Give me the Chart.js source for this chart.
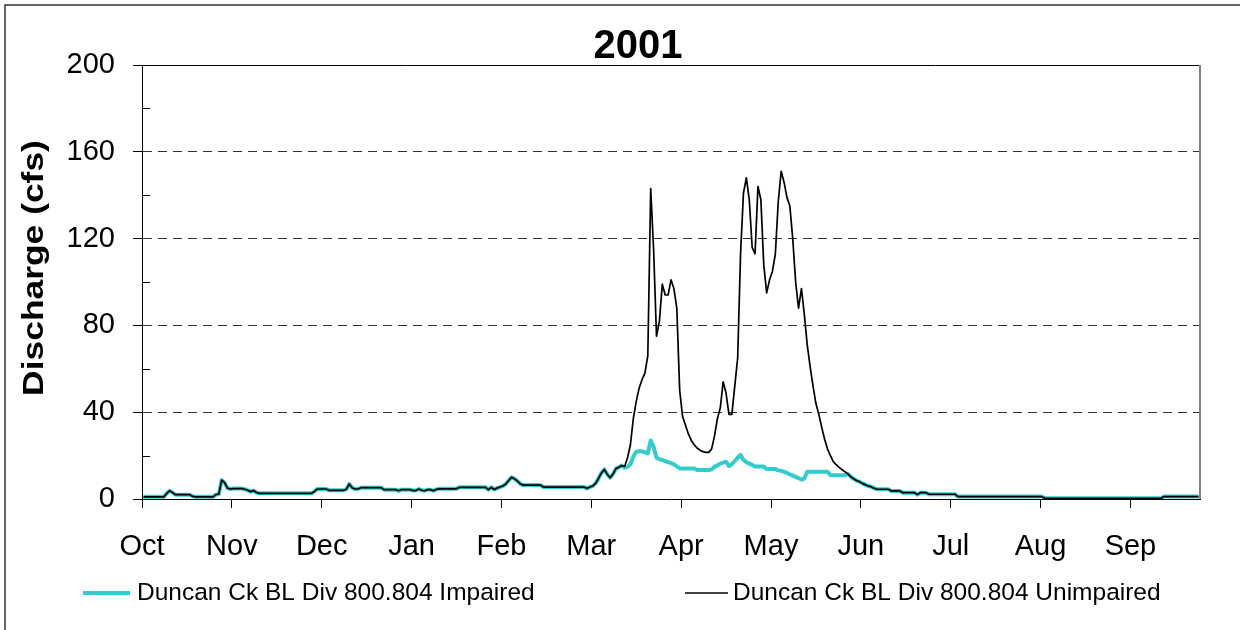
<!DOCTYPE html>
<html>
<head>
<meta charset="utf-8">
<title>2001</title>
<script src="https://cdn.jsdelivr.net/npm/chart.js@4.4.0/dist/chart.umd.min.js"></script>
<style>
    html, body { margin: 0; padding: 0; background: #fff; }
    #wrap { width: 1240px; height: 630px; }
</style>
</head>
<body>
<div id="wrap"><canvas id="flowChart"></canvas></div>
<script>
// Month labels sit on Excel's 31-day tick interval (day 0 = Oct 1, 2000)
const monthLabels = ['Oct', 'Nov', 'Dec', 'Jan', 'Feb', 'Mar', 'Apr', 'May', 'Jun', 'Jul', 'Aug', 'Sep'];
const tickDays = [0, 31, 62, 93, 124, 155, 186, 217, 248, 279, 310, 341];
const yTicks = [0, 40, 80, 120, 160, 200];

// Daily discharge (cfs), Oct 1 2000 - Sep 30 2001
const unimpaired = [
    1, 1, 1, 1, 1, 1, 1, 1, 2.5, 3.8,
    3, 2, 2, 2, 2, 2, 2, 1.2, 1, 1,
    1, 1, 1, 1, 1, 2, 2.3, 8.7, 7.5, 5,
    4.6, 4.8, 4.8, 4.8, 4.8, 4.5, 4, 3.4, 3.9, 3,
    2.6, 2.6, 2.6, 2.6, 2.6, 2.6, 2.6, 2.6, 2.6, 2.6,
    2.6, 2.6, 2.6, 2.6, 2.6, 2.6, 2.6, 2.6, 2.6, 3.5,
    4.6, 4.6, 4.6, 4.6, 4, 4, 4, 4, 4, 4,
    4.5, 6.9, 5.2, 4.6, 4.6, 5.2, 5.2, 5.2, 5.2, 5.2,
    5.2, 5.2, 5.2, 4.3, 4.3, 4.3, 4.3, 4.3, 3.8, 4.3,
    4.3, 4.3, 4.3, 3.9, 3.9, 4.6, 4, 3.8, 4.3, 4.3,
    3.8, 4.4, 4.7, 4.7, 4.7, 4.7, 4.7, 4.7, 4.7, 5.4,
    5.4, 5.4, 5.4, 5.4, 5.4, 5.4, 5.4, 5.4, 5.4, 4.3,
    5.4, 4.4, 5, 5.5, 6, 6.9, 8.5, 10, 9.3, 8.3,
    7, 6.4, 6.4, 6.4, 6.4, 6.4, 6.4, 6.4, 5.5, 5.5,
    5.5, 5.5, 5.5, 5.5, 5.5, 5.5, 5.5, 5.5, 5.5, 5.5,
    5.5, 5.5, 5.5, 4.8, 5.5, 6, 7.2, 9.5, 12, 13.6,
    11.4, 9.8, 11.5, 14, 14.6, 15.4, 15, 19, 25, 37,
    45, 51, 55, 58, 66, 143, 115, 75, 82, 99,
    94, 94, 101, 97, 88, 50, 38, 34, 30, 27,
    25, 23.5, 22.5, 21.8, 21.5, 21.5, 23, 29, 37, 42,
    54, 48.7, 39, 39, 52, 65, 113, 141, 148, 138,
    116, 113, 144, 138, 108, 95, 101, 105, 113, 137,
    151, 146, 139, 135, 120, 100, 88, 97, 85, 71,
    61, 52, 44, 39, 33, 27.5, 23, 20, 17.2, 15.8,
    14.6, 13.5, 12.6, 11.6, 10.3, 9.3, 8.5, 8, 7.2, 6.6,
    6, 5.7, 5, 4.5, 4.5, 4.5, 4.5, 4.5, 3.7, 3.7,
    3.7, 3.7, 2.9, 2.9, 2.9, 2.9, 2.9, 2, 2.9, 2.9,
    2.9, 2.2, 2.2, 2.2, 2.2, 2.2, 2.2, 2.2, 2.2, 2.2,
    2.2, 1.1, 1.1, 1.1, 1.1, 1.1, 1.1, 1.1, 1.1, 1.1,
    1.1, 1.1, 1.1, 1.1, 1.1, 1.1, 1.1, 1.1, 1.1, 1.1,
    1.1, 1.1, 1.1, 1.1, 1.1, 1.1, 1.1, 1.1, 1.1, 1.1,
    1.1, 0.3, 0.3, 0.3, 0.3, 0.3, 0.3, 0.3, 0.3, 0.3,
    0.3, 0.3, 0.3, 0.3, 0.3, 0.3, 0.3, 0.3, 0.3, 0.3,
    0.3, 0.3, 0.3, 0.3, 0.3, 0.3, 0.3, 0.3, 0.3, 0.3,
    0.3, 0.3, 0.3, 0.3, 0.3, 0.3, 0.3, 0.3, 0.3, 0.3,
    0.3, 0.3, 1.1, 1.1, 1.1, 1.1, 1.1, 1.1, 1.1, 1.1,
    1.1, 1.1, 1.1, 1.1, 1.1
];

const impaired = [
    1, 1, 1, 1, 1, 1, 1, 1, 2.5, 3.8,
    3, 2, 2, 2, 2, 2, 2, 1.2, 1, 1,
    1, 1, 1, 1, 1, 2, 2.3, 8.7, 7.5, 5,
    4.6, 4.8, 4.8, 4.8, 4.8, 4.5, 4, 3.4, 3.9, 3,
    2.6, 2.6, 2.6, 2.6, 2.6, 2.6, 2.6, 2.6, 2.6, 2.6,
    2.6, 2.6, 2.6, 2.6, 2.6, 2.6, 2.6, 2.6, 2.6, 3.5,
    4.6, 4.6, 4.6, 4.6, 4, 4, 4, 4, 4, 4,
    4.5, 6.9, 5.2, 4.6, 4.6, 5.2, 5.2, 5.2, 5.2, 5.2,
    5.2, 5.2, 5.2, 4.3, 4.3, 4.3, 4.3, 4.3, 3.8, 4.3,
    4.3, 4.3, 4.3, 3.9, 3.9, 4.6, 4, 3.8, 4.3, 4.3,
    3.8, 4.4, 4.7, 4.7, 4.7, 4.7, 4.7, 4.7, 4.7, 5.4,
    5.4, 5.4, 5.4, 5.4, 5.4, 5.4, 5.4, 5.4, 5.4, 4.3,
    5.4, 4.4, 5, 5.5, 6, 6.9, 8.5, 10, 9.3, 8.3,
    7, 6.4, 6.4, 6.4, 6.4, 6.4, 6.4, 6.4, 5.5, 5.5,
    5.5, 5.5, 5.5, 5.5, 5.5, 5.5, 5.5, 5.5, 5.5, 5.5,
    5.5, 5.5, 5.5, 4.8, 5.5, 6, 7.2, 9.5, 12, 13.6,
    11.4, 9.8, 11.5, 14, 14.6, 15.4, 14.4, 14.8, 16, 19.5,
    21.8, 22, 22, 21.5, 21, 27, 24, 19, 18.3, 18,
    17.5, 17, 16.5, 16, 15, 14.1, 14.1, 14.1, 14.1, 14.1,
    14.1, 13.4, 13.4, 13.4, 13.4, 13.4, 13.6, 14.8, 15.5, 16.3,
    16.8, 17.2, 15.2, 16, 17.5, 19, 20.3, 18, 17, 16.3,
    15.7, 15, 15, 15, 15, 13.8, 13.8, 13.8, 13.8, 13.2,
    13, 12.5, 12, 11.3, 10.8, 10.2, 9.6, 9, 9.4, 12.6,
    12.6, 12.6, 12.6, 12.6, 12.6, 12.6, 12.6, 11, 11, 11,
    11, 11, 11, 11.6, 10.3, 9.3, 8.5, 8, 7.2, 6.6,
    6, 5.7, 5, 4.5, 4.5, 4.5, 4.5, 4.5, 3.7, 3.7,
    3.7, 3.7, 2.9, 2.9, 2.9, 2.9, 2.9, 2, 2.9, 2.9,
    2.9, 2.2, 2.2, 2.2, 2.2, 2.2, 2.2, 2.2, 2.2, 2.2,
    2.2, 1.1, 1.1, 1.1, 1.1, 1.1, 1.1, 1.1, 1.1, 1.1,
    1.1, 1.1, 1.1, 1.1, 1.1, 1.1, 1.1, 1.1, 1.1, 1.1,
    1.1, 1.1, 1.1, 1.1, 1.1, 1.1, 1.1, 1.1, 1.1, 1.1,
    1.1, 0.3, 0.3, 0.3, 0.3, 0.3, 0.3, 0.3, 0.3, 0.3,
    0.3, 0.3, 0.3, 0.3, 0.3, 0.3, 0.3, 0.3, 0.3, 0.3,
    0.3, 0.3, 0.3, 0.3, 0.3, 0.3, 0.3, 0.3, 0.3, 0.3,
    0.3, 0.3, 0.3, 0.3, 0.3, 0.3, 0.3, 0.3, 0.3, 0.3,
    0.3, 0.3, 1.1, 1.1, 1.1, 1.1, 1.1, 1.1, 1.1, 1.1,
    1.1, 1.1, 1.1, 1.1, 1.1
];

const seriesNames = ['Duncan Ck BL Div 800.804 Impaired', 'Duncan Ck BL Div 800.804 Unimpaired'];
const seriesColors = ['#33CCCC', '#000000'];

// each daily value sits in the middle of its day
function toPoints(values) {
    return values.map((v, i) => ({ x: i + 0.5, y: v }));
}

const FONT = "'Liberation Sans', Arial, sans-serif";
Chart.defaults.font.family = FONT;
Chart.defaults.color = '#000';

// title, y title, legend, frame and minor ticks (Excel look)
const excelFrame = {
    id: 'excelFrame',
    beforeDraw(chart) {
        const ctx = chart.ctx;
        ctx.save();
        ctx.fillStyle = '#fff';
        ctx.fillRect(0, 0, chart.width, chart.height);
        ctx.restore();
    },
    afterDraw(chart) {
        const { ctx, chartArea: a, scales } = chart;
        const y = scales.y;
        ctx.save();

        // plot top and right edges
        ctx.strokeStyle = '#000';
        ctx.lineWidth = 1;
        ctx.beginPath();
        ctx.moveTo(a.left, a.top + 0.5);
        ctx.lineTo(a.right, a.top + 0.5);
        ctx.stroke();
        ctx.strokeStyle = '#808080';
        ctx.lineWidth = 2;
        ctx.beginPath();
        ctx.moveTo(a.right, a.top);
        ctx.lineTo(a.right, a.bottom);
        ctx.stroke();

        // minor ticks, inside the plot
        ctx.strokeStyle = '#000';
        ctx.lineWidth = 1;
        for (let v = 20; v < 200; v += 40) {
            const py = Math.round(y.getPixelForValue(v)) + 0.5;
            ctx.beginPath();
            ctx.moveTo(a.left, py);
            ctx.lineTo(a.left + 8, py);
            ctx.stroke();
        }

        // outer chart border
        ctx.strokeStyle = '#333';
        ctx.lineWidth = 1.5;
        ctx.beginPath();
        ctx.moveTo(5, chart.height);
        ctx.lineTo(5, 5);
        ctx.lineTo(chart.width, 5);
        ctx.stroke();

        // title
        ctx.fillStyle = '#000';
        ctx.font = 'bold 40px ' + FONT;
        ctx.textAlign = 'center';
        ctx.textBaseline = 'alphabetic';
        ctx.fillText('2001', 638, 58);

        // y axis title (Excel stretches it a little along the text)
        ctx.save();
        ctx.translate(43, 268);
        ctx.rotate(-Math.PI / 2);
        ctx.scale(1.18, 1);
        ctx.font = 'bold 30px ' + FONT;
        ctx.textAlign = 'center';
        ctx.fillText('Discharge (cfs)', 0, 0);
        ctx.restore();

        // legend
        const legendY = 593;
        const items = [
            { x0: 83, x1: 130, tx: 137, w: 4 },
            { x0: 685, x1: 728, tx: 733, w: 1.6 }
        ];
        ctx.font = '24.5px ' + FONT;
        ctx.textAlign = 'left';
        ctx.textBaseline = 'middle';
        items.forEach((it, i) => {
            ctx.strokeStyle = seriesColors[i];
            ctx.lineWidth = it.w;
            ctx.beginPath();
            ctx.moveTo(it.x0, legendY);
            ctx.lineTo(it.x1, legendY);
            ctx.stroke();
            ctx.fillStyle = '#000';
            ctx.fillText(seriesNames[i], it.tx, legendY);
        });

        ctx.restore();
    }
};

const ctx = document.getElementById('flowChart').getContext('2d');
new Chart(ctx, {
    type: 'line',
    data: {
        datasets: [
            {
                label: seriesNames[0],
                data: toPoints(impaired),
                borderColor: seriesColors[0],
                borderWidth: 4,
                order: 2
            },
            {
                label: seriesNames[1],
                data: toPoints(unimpaired),
                borderColor: seriesColors[1],
                borderWidth: 1.7,
                order: 1
            }
        ]
    },
    options: {
        responsive: true,
        maintainAspectRatio: false,
        animation: false,
        devicePixelRatio: 1,
        layout: { padding: { top: 65, right: 40, bottom: 0, left: 0 } },
        elements: {
            point: { radius: 0 },
            line: { tension: 0, borderJoinStyle: 'round' }
        },
        plugins: {
            legend: { display: false },
            title: { display: false },
            tooltip: { enabled: false }
        },
        scales: {
            x: {
                type: 'linear',
                min: 0,
                max: 365,
                afterBuildTicks: (scale) => {
                    scale.ticks = tickDays.map(v => ({ value: v }));
                },
                afterFit: (scale) => { scale.height = 131; },
                ticks: {
                    autoSkip: false,
                    maxRotation: 0,
                    minRotation: 0,
                    padding: 22,
                    font: { size: 29 },
                    color: '#000',
                    callback: (value) => monthLabels[tickDays.indexOf(value)]
                },
                grid: {
                    drawOnChartArea: false,
                    tickLength: 9,
                    tickColor: '#000'
                },
                border: { color: '#000', width: 1 }
            },
            y: {
                min: 0,
                max: 200,
                afterBuildTicks: (scale) => {
                    scale.ticks = yTicks.map(v => ({ value: v }));
                },
                afterFit: (scale) => { scale.width = 142; },
                ticks: {
                    padding: 18,
                    font: { size: 29 },
                    color: '#000'
                },
                grid: {
                    tickLength: 9,
                    tickColor: '#000',
                    color: (c) => (c.tick && c.tick.value > 0 && c.tick.value < 200) ? '#333' : 'rgba(0,0,0,0)',
                    lineWidth: 1
                },
                border: { color: '#000', width: 1, dash: [9, 6] }
            }
        }
    },
    plugins: [excelFrame]
});
</script>
</body>
</html>
